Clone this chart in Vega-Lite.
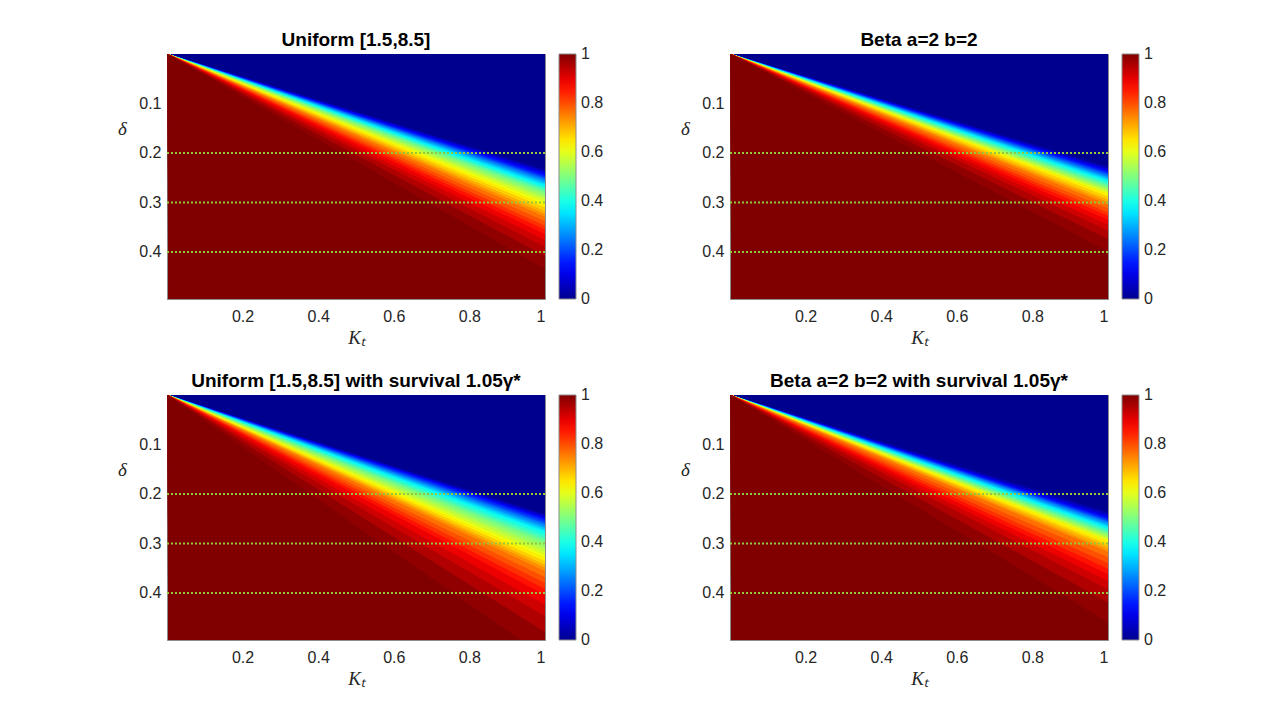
{
"$schema":"https://vega.github.io/schema/vega-lite/v6.json",
"padding":{"left":117,"top":30,"right":0,"bottom":0},
"background":"#ffffff",
"datasets":{
"lines":[{"d":0.2},{"d":0.3},{"d":0.4}],
"bands":[
{"p":"A","b":0,"k":0,"lo":0,"hi":0,"v":0},{"p":"A","b":0,"k":1,"lo":0,"hi":0.233,"v":0},
{"p":"A","b":1,"k":0,"lo":0,"hi":0,"v":0.0156},{"p":"A","b":1,"k":1,"lo":0.233,"hi":0.236,"v":0.0156},
{"p":"A","b":2,"k":0,"lo":0,"hi":0,"v":0.0469},{"p":"A","b":2,"k":1,"lo":0.236,"hi":0.238,"v":0.0469},
{"p":"A","b":3,"k":0,"lo":0,"hi":0,"v":0.0781},{"p":"A","b":3,"k":1,"lo":0.238,"hi":0.241,"v":0.0781},
{"p":"A","b":4,"k":0,"lo":0,"hi":0,"v":0.1094},{"p":"A","b":4,"k":1,"lo":0.241,"hi":0.244,"v":0.1094},
{"p":"A","b":5,"k":0,"lo":0,"hi":0,"v":0.1406},{"p":"A","b":5,"k":1,"lo":0.244,"hi":0.247,"v":0.1406},
{"p":"A","b":6,"k":0,"lo":0,"hi":0,"v":0.1719},{"p":"A","b":6,"k":1,"lo":0.247,"hi":0.25,"v":0.1719},
{"p":"A","b":7,"k":0,"lo":0,"hi":0,"v":0.2031},{"p":"A","b":7,"k":1,"lo":0.25,"hi":0.252,"v":0.2031},
{"p":"A","b":8,"k":0,"lo":0,"hi":0,"v":0.2344},{"p":"A","b":8,"k":1,"lo":0.252,"hi":0.255,"v":0.2344},
{"p":"A","b":9,"k":0,"lo":0,"hi":0,"v":0.2656},{"p":"A","b":9,"k":1,"lo":0.255,"hi":0.258,"v":0.2656},
{"p":"A","b":10,"k":0,"lo":0,"hi":0,"v":0.2969},{"p":"A","b":10,"k":1,"lo":0.258,"hi":0.261,"v":0.2969},
{"p":"A","b":11,"k":0,"lo":0,"hi":0,"v":0.3281},{"p":"A","b":11,"k":1,"lo":0.261,"hi":0.264,"v":0.3281},
{"p":"A","b":12,"k":0,"lo":0,"hi":0,"v":0.3594},{"p":"A","b":12,"k":1,"lo":0.264,"hi":0.267,"v":0.3594},
{"p":"A","b":13,"k":0,"lo":0,"hi":0,"v":0.3906},{"p":"A","b":13,"k":1,"lo":0.267,"hi":0.271,"v":0.3906},
{"p":"A","b":14,"k":0,"lo":0,"hi":0,"v":0.4219},{"p":"A","b":14,"k":1,"lo":0.271,"hi":0.274,"v":0.4219},
{"p":"A","b":15,"k":0,"lo":0,"hi":0,"v":0.4531},{"p":"A","b":15,"k":1,"lo":0.274,"hi":0.278,"v":0.4531},
{"p":"A","b":16,"k":0,"lo":0,"hi":0,"v":0.4844},{"p":"A","b":16,"k":1,"lo":0.278,"hi":0.282,"v":0.4844},
{"p":"A","b":17,"k":0,"lo":0,"hi":0,"v":0.5156},{"p":"A","b":17,"k":1,"lo":0.282,"hi":0.288,"v":0.5156},
{"p":"A","b":18,"k":0,"lo":0,"hi":0,"v":0.5469},{"p":"A","b":18,"k":1,"lo":0.288,"hi":0.293,"v":0.5469},
{"p":"A","b":19,"k":0,"lo":0,"hi":0,"v":0.5781},{"p":"A","b":19,"k":1,"lo":0.293,"hi":0.299,"v":0.5781},
{"p":"A","b":20,"k":0,"lo":0,"hi":0,"v":0.6094},{"p":"A","b":20,"k":1,"lo":0.299,"hi":0.305,"v":0.6094},
{"p":"A","b":21,"k":0,"lo":0,"hi":0,"v":0.6406},{"p":"A","b":21,"k":1,"lo":0.305,"hi":0.311,"v":0.6406},
{"p":"A","b":22,"k":0,"lo":0,"hi":0,"v":0.6719},{"p":"A","b":22,"k":1,"lo":0.311,"hi":0.318,"v":0.6719},
{"p":"A","b":23,"k":0,"lo":0,"hi":0,"v":0.7031},{"p":"A","b":23,"k":1,"lo":0.318,"hi":0.324,"v":0.7031},
{"p":"A","b":24,"k":0,"lo":0,"hi":0,"v":0.7344},{"p":"A","b":24,"k":1,"lo":0.324,"hi":0.33,"v":0.7344},
{"p":"A","b":25,"k":0,"lo":0,"hi":0,"v":0.7656},{"p":"A","b":25,"k":1,"lo":0.33,"hi":0.339,"v":0.7656},
{"p":"A","b":26,"k":0,"lo":0,"hi":0,"v":0.7969},{"p":"A","b":26,"k":1,"lo":0.339,"hi":0.348,"v":0.7969},
{"p":"A","b":27,"k":0,"lo":0,"hi":0,"v":0.8281},{"p":"A","b":27,"k":1,"lo":0.348,"hi":0.356,"v":0.8281},
{"p":"A","b":28,"k":0,"lo":0,"hi":0,"v":0.8594},{"p":"A","b":28,"k":1,"lo":0.356,"hi":0.365,"v":0.8594},
{"p":"A","b":29,"k":0,"lo":0,"hi":0,"v":0.8906},{"p":"A","b":29,"k":1,"lo":0.365,"hi":0.377,"v":0.8906},
{"p":"A","b":30,"k":0,"lo":0,"hi":0,"v":0.9219},{"p":"A","b":30,"k":1,"lo":0.377,"hi":0.391,"v":0.9219},
{"p":"A","b":31,"k":0,"lo":0,"hi":0,"v":0.9531},{"p":"A","b":31,"k":1,"lo":0.391,"hi":0.409,"v":0.9531},
{"p":"A","b":32,"k":0,"lo":0,"hi":0,"v":0.9844},{"p":"A","b":32,"k":1,"lo":0.409,"hi":0.435,"v":0.9844},
{"p":"A","b":33,"k":0,"lo":0,"hi":0,"v":1},{"p":"A","b":33,"k":1,"lo":0.435,"hi":100,"v":1},
{"p":"B","b":0,"k":0,"lo":0,"hi":0,"v":0},{"p":"B","b":0,"k":1,"lo":0,"hi":0.227,"v":0},
{"p":"B","b":1,"k":0,"lo":0,"hi":0,"v":0.0156},{"p":"B","b":1,"k":1,"lo":0.227,"hi":0.23,"v":0.0156},
{"p":"B","b":2,"k":0,"lo":0,"hi":0,"v":0.0469},{"p":"B","b":2,"k":1,"lo":0.23,"hi":0.232,"v":0.0469},
{"p":"B","b":3,"k":0,"lo":0,"hi":0,"v":0.0781},{"p":"B","b":3,"k":1,"lo":0.232,"hi":0.235,"v":0.0781},
{"p":"B","b":4,"k":0,"lo":0,"hi":0,"v":0.1094},{"p":"B","b":4,"k":1,"lo":0.235,"hi":0.237,"v":0.1094},
{"p":"B","b":5,"k":0,"lo":0,"hi":0,"v":0.1406},{"p":"B","b":5,"k":1,"lo":0.237,"hi":0.24,"v":0.1406},
{"p":"B","b":6,"k":0,"lo":0,"hi":0,"v":0.1719},{"p":"B","b":6,"k":1,"lo":0.24,"hi":0.242,"v":0.1719},
{"p":"B","b":7,"k":0,"lo":0,"hi":0,"v":0.2031},{"p":"B","b":7,"k":1,"lo":0.242,"hi":0.245,"v":0.2031},
{"p":"B","b":8,"k":0,"lo":0,"hi":0,"v":0.2344},{"p":"B","b":8,"k":1,"lo":0.245,"hi":0.247,"v":0.2344},
{"p":"B","b":9,"k":0,"lo":0,"hi":0,"v":0.2656},{"p":"B","b":9,"k":1,"lo":0.247,"hi":0.25,"v":0.2656},
{"p":"B","b":10,"k":0,"lo":0,"hi":0,"v":0.2969},{"p":"B","b":10,"k":1,"lo":0.25,"hi":0.252,"v":0.2969},
{"p":"B","b":11,"k":0,"lo":0,"hi":0,"v":0.3281},{"p":"B","b":11,"k":1,"lo":0.252,"hi":0.255,"v":0.3281},
{"p":"B","b":12,"k":0,"lo":0,"hi":0,"v":0.3594},{"p":"B","b":12,"k":1,"lo":0.255,"hi":0.257,"v":0.3594},
{"p":"B","b":13,"k":0,"lo":0,"hi":0,"v":0.3906},{"p":"B","b":13,"k":1,"lo":0.257,"hi":0.26,"v":0.3906},
{"p":"B","b":14,"k":0,"lo":0,"hi":0,"v":0.4219},{"p":"B","b":14,"k":1,"lo":0.26,"hi":0.264,"v":0.4219},
{"p":"B","b":15,"k":0,"lo":0,"hi":0,"v":0.4531},{"p":"B","b":15,"k":1,"lo":0.264,"hi":0.267,"v":0.4531},
{"p":"B","b":16,"k":0,"lo":0,"hi":0,"v":0.4844},{"p":"B","b":16,"k":1,"lo":0.267,"hi":0.27,"v":0.4844},
{"p":"B","b":17,"k":0,"lo":0,"hi":0,"v":0.5156},{"p":"B","b":17,"k":1,"lo":0.27,"hi":0.274,"v":0.5156},
{"p":"B","b":18,"k":0,"lo":0,"hi":0,"v":0.5469},{"p":"B","b":18,"k":1,"lo":0.274,"hi":0.277,"v":0.5469},
{"p":"B","b":19,"k":0,"lo":0,"hi":0,"v":0.5781},{"p":"B","b":19,"k":1,"lo":0.277,"hi":0.281,"v":0.5781},
{"p":"B","b":20,"k":0,"lo":0,"hi":0,"v":0.6094},{"p":"B","b":20,"k":1,"lo":0.281,"hi":0.284,"v":0.6094},
{"p":"B","b":21,"k":0,"lo":0,"hi":0,"v":0.6406},{"p":"B","b":21,"k":1,"lo":0.284,"hi":0.289,"v":0.6406},
{"p":"B","b":22,"k":0,"lo":0,"hi":0,"v":0.6719},{"p":"B","b":22,"k":1,"lo":0.289,"hi":0.295,"v":0.6719},
{"p":"B","b":23,"k":0,"lo":0,"hi":0,"v":0.7031},{"p":"B","b":23,"k":1,"lo":0.295,"hi":0.3,"v":0.7031},
{"p":"B","b":24,"k":0,"lo":0,"hi":0,"v":0.7344},{"p":"B","b":24,"k":1,"lo":0.3,"hi":0.305,"v":0.7344},
{"p":"B","b":25,"k":0,"lo":0,"hi":0,"v":0.7656},{"p":"B","b":25,"k":1,"lo":0.305,"hi":0.313,"v":0.7656},
{"p":"B","b":26,"k":0,"lo":0,"hi":0,"v":0.7969},{"p":"B","b":26,"k":1,"lo":0.313,"hi":0.321,"v":0.7969},
{"p":"B","b":27,"k":0,"lo":0,"hi":0,"v":0.8281},{"p":"B","b":27,"k":1,"lo":0.321,"hi":0.328,"v":0.8281},
{"p":"B","b":28,"k":0,"lo":0,"hi":0,"v":0.8594},{"p":"B","b":28,"k":1,"lo":0.328,"hi":0.336,"v":0.8594},
{"p":"B","b":29,"k":0,"lo":0,"hi":0,"v":0.8906},{"p":"B","b":29,"k":1,"lo":0.336,"hi":0.346,"v":0.8906},
{"p":"B","b":30,"k":0,"lo":0,"hi":0,"v":0.9219},{"p":"B","b":30,"k":1,"lo":0.346,"hi":0.358,"v":0.9219},
{"p":"B","b":31,"k":0,"lo":0,"hi":0,"v":0.9531},{"p":"B","b":31,"k":1,"lo":0.358,"hi":0.375,"v":0.9531},
{"p":"B","b":32,"k":0,"lo":0,"hi":0,"v":0.9844},{"p":"B","b":32,"k":1,"lo":0.375,"hi":0.4,"v":0.9844},
{"p":"B","b":33,"k":0,"lo":0,"hi":0,"v":1},{"p":"B","b":33,"k":1,"lo":0.4,"hi":100,"v":1},
{"p":"C","b":0,"k":0,"lo":0,"hi":0,"v":0},{"p":"C","b":0,"k":1,"lo":0,"hi":0.24,"v":0},
{"p":"C","b":1,"k":0,"lo":0,"hi":0,"v":0.0156},{"p":"C","b":1,"k":1,"lo":0.24,"hi":0.243,"v":0.0156},
{"p":"C","b":2,"k":0,"lo":0,"hi":0,"v":0.0469},{"p":"C","b":2,"k":1,"lo":0.243,"hi":0.245,"v":0.0469},
{"p":"C","b":3,"k":0,"lo":0,"hi":0,"v":0.0781},{"p":"C","b":3,"k":1,"lo":0.245,"hi":0.248,"v":0.0781},
{"p":"C","b":4,"k":0,"lo":0,"hi":0,"v":0.1094},{"p":"C","b":4,"k":1,"lo":0.248,"hi":0.25,"v":0.1094},
{"p":"C","b":5,"k":0,"lo":0,"hi":0,"v":0.1406},{"p":"C","b":5,"k":1,"lo":0.25,"hi":0.253,"v":0.1406},
{"p":"C","b":6,"k":0,"lo":0,"hi":0,"v":0.1719},{"p":"C","b":6,"k":1,"lo":0.253,"hi":0.257,"v":0.1719},
{"p":"C","b":7,"k":0,"lo":0,"hi":0,"v":0.2031},{"p":"C","b":7,"k":1,"lo":0.257,"hi":0.26,"v":0.2031},
{"p":"C","b":8,"k":0,"lo":0,"hi":0,"v":0.2344},{"p":"C","b":8,"k":1,"lo":0.26,"hi":0.263,"v":0.2344},
{"p":"C","b":9,"k":0,"lo":0,"hi":0,"v":0.2656},{"p":"C","b":9,"k":1,"lo":0.263,"hi":0.267,"v":0.2656},
{"p":"C","b":10,"k":0,"lo":0,"hi":0,"v":0.2969},{"p":"C","b":10,"k":1,"lo":0.267,"hi":0.27,"v":0.2969},
{"p":"C","b":11,"k":0,"lo":0,"hi":0,"v":0.3281},{"p":"C","b":11,"k":1,"lo":0.27,"hi":0.274,"v":0.3281},
{"p":"C","b":12,"k":0,"lo":0,"hi":0,"v":0.3594},{"p":"C","b":12,"k":1,"lo":0.274,"hi":0.277,"v":0.3594},
{"p":"C","b":13,"k":0,"lo":0,"hi":0,"v":0.3906},{"p":"C","b":13,"k":1,"lo":0.277,"hi":0.283,"v":0.3906},
{"p":"C","b":14,"k":0,"lo":0,"hi":0,"v":0.4219},{"p":"C","b":14,"k":1,"lo":0.283,"hi":0.289,"v":0.4219},
{"p":"C","b":15,"k":0,"lo":0,"hi":0,"v":0.4531},{"p":"C","b":15,"k":1,"lo":0.289,"hi":0.294,"v":0.4531},
{"p":"C","b":16,"k":0,"lo":0,"hi":0,"v":0.4844},{"p":"C","b":16,"k":1,"lo":0.294,"hi":0.3,"v":0.4844},
{"p":"C","b":17,"k":0,"lo":0,"hi":0,"v":0.5156},{"p":"C","b":17,"k":1,"lo":0.3,"hi":0.308,"v":0.5156},
{"p":"C","b":18,"k":0,"lo":0,"hi":0,"v":0.5469},{"p":"C","b":18,"k":1,"lo":0.308,"hi":0.315,"v":0.5469},
{"p":"C","b":19,"k":0,"lo":0,"hi":0,"v":0.5781},{"p":"C","b":19,"k":1,"lo":0.315,"hi":0.323,"v":0.5781},
{"p":"C","b":20,"k":0,"lo":0,"hi":0,"v":0.6094},{"p":"C","b":20,"k":1,"lo":0.323,"hi":0.33,"v":0.6094},
{"p":"C","b":21,"k":0,"lo":0,"hi":0,"v":0.6406},{"p":"C","b":21,"k":1,"lo":0.33,"hi":0.337,"v":0.6406},
{"p":"C","b":22,"k":0,"lo":0,"hi":0,"v":0.6719},{"p":"C","b":22,"k":1,"lo":0.337,"hi":0.344,"v":0.6719},
{"p":"C","b":23,"k":0,"lo":0,"hi":0,"v":0.7031},{"p":"C","b":23,"k":1,"lo":0.344,"hi":0.35,"v":0.7031},
{"p":"C","b":24,"k":0,"lo":0,"hi":0,"v":0.7344},{"p":"C","b":24,"k":1,"lo":0.35,"hi":0.357,"v":0.7344},
{"p":"C","b":25,"k":0,"lo":0,"hi":0,"v":0.7656},{"p":"C","b":25,"k":1,"lo":0.357,"hi":0.369,"v":0.7656},
{"p":"C","b":26,"k":0,"lo":0,"hi":0,"v":0.7969},{"p":"C","b":26,"k":1,"lo":0.369,"hi":0.381,"v":0.7969},
{"p":"C","b":27,"k":0,"lo":0,"hi":0,"v":0.8281},{"p":"C","b":27,"k":1,"lo":0.381,"hi":0.393,"v":0.8281},
{"p":"C","b":28,"k":0,"lo":0,"hi":0,"v":0.8594},{"p":"C","b":28,"k":1,"lo":0.393,"hi":0.405,"v":0.8594},
{"p":"C","b":29,"k":0,"lo":0,"hi":0,"v":0.8906},{"p":"C","b":29,"k":1,"lo":0.405,"hi":0.425,"v":0.8906},
{"p":"C","b":30,"k":0,"lo":0,"hi":0,"v":0.9219},{"p":"C","b":30,"k":1,"lo":0.425,"hi":0.448,"v":0.9219},
{"p":"C","b":31,"k":0,"lo":0,"hi":0,"v":0.9531},{"p":"C","b":31,"k":1,"lo":0.448,"hi":0.48,"v":0.9531},
{"p":"C","b":32,"k":0,"lo":0,"hi":0,"v":0.9844},{"p":"C","b":32,"k":1,"lo":0.48,"hi":0.53,"v":0.9844},
{"p":"C","b":33,"k":0,"lo":0,"hi":0,"v":1},{"p":"C","b":33,"k":1,"lo":0.53,"hi":100,"v":1},
{"p":"D","b":0,"k":0,"lo":0,"hi":0,"v":0},{"p":"D","b":0,"k":1,"lo":0,"hi":0.236,"v":0},
{"p":"D","b":1,"k":0,"lo":0,"hi":0,"v":0.0156},{"p":"D","b":1,"k":1,"lo":0.236,"hi":0.239,"v":0.0156},
{"p":"D","b":2,"k":0,"lo":0,"hi":0,"v":0.0469},{"p":"D","b":2,"k":1,"lo":0.239,"hi":0.243,"v":0.0469},
{"p":"D","b":3,"k":0,"lo":0,"hi":0,"v":0.0781},{"p":"D","b":3,"k":1,"lo":0.243,"hi":0.246,"v":0.0781},
{"p":"D","b":4,"k":0,"lo":0,"hi":0,"v":0.1094},{"p":"D","b":4,"k":1,"lo":0.246,"hi":0.249,"v":0.1094},
{"p":"D","b":5,"k":0,"lo":0,"hi":0,"v":0.1406},{"p":"D","b":5,"k":1,"lo":0.249,"hi":0.251,"v":0.1406},
{"p":"D","b":6,"k":0,"lo":0,"hi":0,"v":0.1719},{"p":"D","b":6,"k":1,"lo":0.251,"hi":0.254,"v":0.1719},
{"p":"D","b":7,"k":0,"lo":0,"hi":0,"v":0.2031},{"p":"D","b":7,"k":1,"lo":0.254,"hi":0.256,"v":0.2031},
{"p":"D","b":8,"k":0,"lo":0,"hi":0,"v":0.2344},{"p":"D","b":8,"k":1,"lo":0.256,"hi":0.258,"v":0.2344},
{"p":"D","b":9,"k":0,"lo":0,"hi":0,"v":0.2656},{"p":"D","b":9,"k":1,"lo":0.258,"hi":0.261,"v":0.2656},
{"p":"D","b":10,"k":0,"lo":0,"hi":0,"v":0.2969},{"p":"D","b":10,"k":1,"lo":0.261,"hi":0.264,"v":0.2969},
{"p":"D","b":11,"k":0,"lo":0,"hi":0,"v":0.3281},{"p":"D","b":11,"k":1,"lo":0.264,"hi":0.266,"v":0.3281},
{"p":"D","b":12,"k":0,"lo":0,"hi":0,"v":0.3594},{"p":"D","b":12,"k":1,"lo":0.266,"hi":0.269,"v":0.3594},
{"p":"D","b":13,"k":0,"lo":0,"hi":0,"v":0.3906},{"p":"D","b":13,"k":1,"lo":0.269,"hi":0.272,"v":0.3906},
{"p":"D","b":14,"k":0,"lo":0,"hi":0,"v":0.4219},{"p":"D","b":14,"k":1,"lo":0.272,"hi":0.276,"v":0.4219},
{"p":"D","b":15,"k":0,"lo":0,"hi":0,"v":0.4531},{"p":"D","b":15,"k":1,"lo":0.276,"hi":0.279,"v":0.4531},
{"p":"D","b":16,"k":0,"lo":0,"hi":0,"v":0.4844},{"p":"D","b":16,"k":1,"lo":0.279,"hi":0.282,"v":0.4844},
{"p":"D","b":17,"k":0,"lo":0,"hi":0,"v":0.5156},{"p":"D","b":17,"k":1,"lo":0.282,"hi":0.286,"v":0.5156},
{"p":"D","b":18,"k":0,"lo":0,"hi":0,"v":0.5469},{"p":"D","b":18,"k":1,"lo":0.286,"hi":0.289,"v":0.5469},
{"p":"D","b":19,"k":0,"lo":0,"hi":0,"v":0.5781},{"p":"D","b":19,"k":1,"lo":0.289,"hi":0.293,"v":0.5781},
{"p":"D","b":20,"k":0,"lo":0,"hi":0,"v":0.6094},{"p":"D","b":20,"k":1,"lo":0.293,"hi":0.296,"v":0.6094},
{"p":"D","b":21,"k":0,"lo":0,"hi":0,"v":0.6406},{"p":"D","b":21,"k":1,"lo":0.296,"hi":0.302,"v":0.6406},
{"p":"D","b":22,"k":0,"lo":0,"hi":0,"v":0.6719},{"p":"D","b":22,"k":1,"lo":0.302,"hi":0.307,"v":0.6719},
{"p":"D","b":23,"k":0,"lo":0,"hi":0,"v":0.7031},{"p":"D","b":23,"k":1,"lo":0.307,"hi":0.313,"v":0.7031},
{"p":"D","b":24,"k":0,"lo":0,"hi":0,"v":0.7344},{"p":"D","b":24,"k":1,"lo":0.313,"hi":0.318,"v":0.7344},
{"p":"D","b":25,"k":0,"lo":0,"hi":0,"v":0.7656},{"p":"D","b":25,"k":1,"lo":0.318,"hi":0.329,"v":0.7656},
{"p":"D","b":26,"k":0,"lo":0,"hi":0,"v":0.7969},{"p":"D","b":26,"k":1,"lo":0.329,"hi":0.341,"v":0.7969},
{"p":"D","b":27,"k":0,"lo":0,"hi":0,"v":0.8281},{"p":"D","b":27,"k":1,"lo":0.341,"hi":0.352,"v":0.8281},
{"p":"D","b":28,"k":0,"lo":0,"hi":0,"v":0.8594},{"p":"D","b":28,"k":1,"lo":0.352,"hi":0.363,"v":0.8594},
{"p":"D","b":29,"k":0,"lo":0,"hi":0,"v":0.8906},{"p":"D","b":29,"k":1,"lo":0.363,"hi":0.377,"v":0.8906},
{"p":"D","b":30,"k":0,"lo":0,"hi":0,"v":0.9219},{"p":"D","b":30,"k":1,"lo":0.377,"hi":0.394,"v":0.9219},
{"p":"D","b":31,"k":0,"lo":0,"hi":0,"v":0.9531},{"p":"D","b":31,"k":1,"lo":0.394,"hi":0.42,"v":0.9531},
{"p":"D","b":32,"k":0,"lo":0,"hi":0,"v":0.9844},{"p":"D","b":32,"k":1,"lo":0.42,"hi":0.46,"v":0.9844},
{"p":"D","b":33,"k":0,"lo":0,"hi":0,"v":1},{"p":"D","b":33,"k":1,"lo":0.46,"hi":100,"v":1}
]},
"spacing":23,
"resolve":{"scale":{"color":"independent","stroke":"independent"},"legend":{"color":"independent"}},
"vconcat":[
{"spacing":75,
"resolve":{"scale":{"color":"independent","stroke":"independent"},"legend":{"color":"independent"}},
"hconcat":[
{"width":378,"height":245,"title":{"text":"Uniform [1.5,8.5]"},
"layer":[
{"data":{"name":"bands"},"transform":[{"filter":"datum.p==='A'"}],
"mark":{"type":"area","clip":true,"strokeWidth":0.8},
"encoding":{
"x":{"field":"k","type":"quantitative","scale":{"domain":[0,1],"nice":false,"zero":false},"axis":{"values":[0.2,0.4,0.6,0.8,1],"format":"~g","title":"Kₜ","labelPadding":9,"titlePadding":4}},
"y":{"field":"lo","type":"quantitative","stack":null,"scale":{"domain":[0,0.495],"reverse":true,"nice":false,"zero":false},"axis":{"values":[0.1,0.2,0.3,0.4],"format":"~g","title":"δ","labelPadding":6,"titleAngle":0,"titleX":-45,"titleY":74,"titleAlign":"center","titleBaseline":"middle"}},
"y2":{"field":"hi"},
"detail":{"field":"b","type":"nominal"},
"color":{"field":"v","type":"quantitative","scale":{"domain":[0,0.125,0.375,0.625,0.875,1],"range":["#00008f","#0000ff","#00ffff","#ffff00","#ff0000","#800000"],"interpolate":"rgb"},"legend":{"title":null,"type":"gradient","values":[0,0.2,0.4,0.6,0.8,1],"format":"~g","gradientLength":245,"gradientThickness":17,"offset":14,"labelOffset":5,"labelOverlap":false,"encode":{"labels":{"update":{"baseline":{"value":"middle"}}}}}},
"stroke":{"field":"v","type":"quantitative","scale":{"domain":[0,0.125,0.375,0.625,0.875,1.00001],"range":["#00008f","#0000ff","#00ffff","#ffff00","#ff0000","#800000"],"interpolate":"rgb"},"legend":null}
}},
{"data":{"name":"lines"},"mark":{"type":"rule","color":"#96c83c","strokeWidth":2,"strokeDash":[2,2]},"encoding":{"y":{"field":"d","type":"quantitative"}}}
]},
{"width":378,"height":245,"title":{"text":"Beta a=2 b=2"},
"layer":[
{"data":{"name":"bands"},"transform":[{"filter":"datum.p==='B'"}],
"mark":{"type":"area","clip":true,"strokeWidth":0.8},
"encoding":{
"x":{"field":"k","type":"quantitative","scale":{"domain":[0,1],"nice":false,"zero":false},"axis":{"values":[0.2,0.4,0.6,0.8,1],"format":"~g","title":"Kₜ","labelPadding":9,"titlePadding":4}},
"y":{"field":"lo","type":"quantitative","stack":null,"scale":{"domain":[0,0.495],"reverse":true,"nice":false,"zero":false},"axis":{"values":[0.1,0.2,0.3,0.4],"format":"~g","title":"δ","labelPadding":6,"titleAngle":0,"titleX":-45,"titleY":74,"titleAlign":"center","titleBaseline":"middle"}},
"y2":{"field":"hi"},
"detail":{"field":"b","type":"nominal"},
"color":{"field":"v","type":"quantitative","scale":{"domain":[0,0.125,0.375,0.625,0.875,1],"range":["#00008f","#0000ff","#00ffff","#ffff00","#ff0000","#800000"],"interpolate":"rgb"},"legend":{"title":null,"type":"gradient","values":[0,0.2,0.4,0.6,0.8,1],"format":"~g","gradientLength":245,"gradientThickness":17,"offset":14,"labelOffset":5,"labelOverlap":false,"encode":{"labels":{"update":{"baseline":{"value":"middle"}}}}}},
"stroke":{"field":"v","type":"quantitative","scale":{"domain":[0,0.125,0.375,0.625,0.875,1.00001],"range":["#00008f","#0000ff","#00ffff","#ffff00","#ff0000","#800000"],"interpolate":"rgb"},"legend":null}
}},
{"data":{"name":"lines"},"mark":{"type":"rule","color":"#96c83c","strokeWidth":2,"strokeDash":[2,2]},"encoding":{"y":{"field":"d","type":"quantitative"}}}
]}
]},
{"spacing":75,
"resolve":{"scale":{"color":"independent","stroke":"independent"},"legend":{"color":"independent"}},
"hconcat":[
{"width":378,"height":245,"title":{"text":"Uniform [1.5,8.5] with survival 1.05γ*"},
"layer":[
{"data":{"name":"bands"},"transform":[{"filter":"datum.p==='C'"}],
"mark":{"type":"area","clip":true,"strokeWidth":0.8},
"encoding":{
"x":{"field":"k","type":"quantitative","scale":{"domain":[0,1],"nice":false,"zero":false},"axis":{"values":[0.2,0.4,0.6,0.8,1],"format":"~g","title":"Kₜ","labelPadding":9,"titlePadding":4}},
"y":{"field":"lo","type":"quantitative","stack":null,"scale":{"domain":[0,0.495],"reverse":true,"nice":false,"zero":false},"axis":{"values":[0.1,0.2,0.3,0.4],"format":"~g","title":"δ","labelPadding":6,"titleAngle":0,"titleX":-45,"titleY":74,"titleAlign":"center","titleBaseline":"middle"}},
"y2":{"field":"hi"},
"detail":{"field":"b","type":"nominal"},
"color":{"field":"v","type":"quantitative","scale":{"domain":[0,0.125,0.375,0.625,0.875,1],"range":["#00008f","#0000ff","#00ffff","#ffff00","#ff0000","#800000"],"interpolate":"rgb"},"legend":{"title":null,"type":"gradient","values":[0,0.2,0.4,0.6,0.8,1],"format":"~g","gradientLength":245,"gradientThickness":17,"offset":14,"labelOffset":5,"labelOverlap":false,"encode":{"labels":{"update":{"baseline":{"value":"middle"}}}}}},
"stroke":{"field":"v","type":"quantitative","scale":{"domain":[0,0.125,0.375,0.625,0.875,1.00001],"range":["#00008f","#0000ff","#00ffff","#ffff00","#ff0000","#800000"],"interpolate":"rgb"},"legend":null}
}},
{"data":{"name":"lines"},"mark":{"type":"rule","color":"#96c83c","strokeWidth":2,"strokeDash":[2,2]},"encoding":{"y":{"field":"d","type":"quantitative"}}}
]},
{"width":378,"height":245,"title":{"text":"Beta a=2 b=2 with survival 1.05γ*"},
"layer":[
{"data":{"name":"bands"},"transform":[{"filter":"datum.p==='D'"}],
"mark":{"type":"area","clip":true,"strokeWidth":0.8},
"encoding":{
"x":{"field":"k","type":"quantitative","scale":{"domain":[0,1],"nice":false,"zero":false},"axis":{"values":[0.2,0.4,0.6,0.8,1],"format":"~g","title":"Kₜ","labelPadding":9,"titlePadding":4}},
"y":{"field":"lo","type":"quantitative","stack":null,"scale":{"domain":[0,0.495],"reverse":true,"nice":false,"zero":false},"axis":{"values":[0.1,0.2,0.3,0.4],"format":"~g","title":"δ","labelPadding":6,"titleAngle":0,"titleX":-45,"titleY":74,"titleAlign":"center","titleBaseline":"middle"}},
"y2":{"field":"hi"},
"detail":{"field":"b","type":"nominal"},
"color":{"field":"v","type":"quantitative","scale":{"domain":[0,0.125,0.375,0.625,0.875,1],"range":["#00008f","#0000ff","#00ffff","#ffff00","#ff0000","#800000"],"interpolate":"rgb"},"legend":{"title":null,"type":"gradient","values":[0,0.2,0.4,0.6,0.8,1],"format":"~g","gradientLength":245,"gradientThickness":17,"offset":14,"labelOffset":5,"labelOverlap":false,"encode":{"labels":{"update":{"baseline":{"value":"middle"}}}}}},
"stroke":{"field":"v","type":"quantitative","scale":{"domain":[0,0.125,0.375,0.625,0.875,1.00001],"range":["#00008f","#0000ff","#00ffff","#ffff00","#ff0000","#800000"],"interpolate":"rgb"},"legend":null}
}},
{"data":{"name":"lines"},"mark":{"type":"rule","color":"#96c83c","strokeWidth":2,"strokeDash":[2,2]},"encoding":{"y":{"field":"d","type":"quantitative"}}}
]}
]}
],
"config":{
"font":"Liberation Sans",
"view":{"stroke":"#8c8c8c","strokeWidth":1,"fill":"#800000"},
"axis":{"labelFont":"Liberation Sans","labelFontSize":16,"labelColor":"#262626","titleFont":"Liberation Serif","titleFontSize":19,"titleFontStyle":"italic","titleFontWeight":"normal","titleColor":"#262626","domain":false,"ticks":false,"grid":false},
"legend":{"labelFont":"Liberation Sans","labelFontSize":16,"labelColor":"#262626","gradientStrokeColor":"#8c8c8c","gradientStrokeWidth":1,"padding":0},
"title":{"font":"Liberation Sans","fontSize":19,"fontWeight":"bold","color":"#000000","offset":4,"anchor":"middle"}
}
}
